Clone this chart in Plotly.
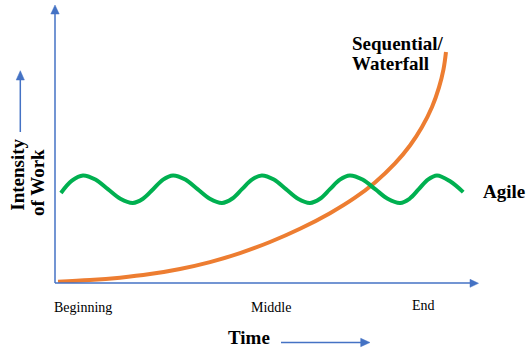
import plotly.graph_objects as go

# ---- data (x = time 0..100, y = intensity 0..100) ----
waterfall_x = [0.71, 8.27, 15.37, 22.46, 29.55, 36.64, 43.74, 50.83, 57.92, 65.01,
               70.92, 75.65, 80.38, 83.92, 86.76, 89.13, 90.78, 91.84, 92.43]
waterfall_y = [0.47, 1.04, 1.91, 3.20, 5.04, 7.52, 10.76, 14.75, 19.50, 25.11,
               30.68, 36.15, 42.99, 49.46, 56.12, 63.31, 70.36, 76.83, 83.09]

agile_x = [1.4, 4.0, 6.6, 9.55, 12.5, 15.45, 18.4, 20.8, 23.2, 25.55, 27.9, 30.8,
           33.7, 36.6, 39.5, 41.85, 44.2, 46.55, 48.9, 51.75, 54.6, 57.45, 60.3,
           62.65, 65.0, 67.35, 69.7, 72.7, 75.7, 78.65, 81.6, 83.8, 86.0, 88.15,
           90.3, 93.4, 96.5]
agile_y = [32.4, 36.8, 38.7, 37.2, 33.75, 30.3, 28.8, 30.3, 33.75, 37.2, 38.7, 37.2,
           33.75, 30.3, 28.8, 30.3, 33.75, 37.2, 38.7, 37.2, 33.75, 30.3, 28.8,
           30.3, 33.75, 37.2, 38.7, 37.2, 33.75, 30.3, 28.8, 30.3, 33.75, 37.2,
           38.7, 36.6, 32.7]

tick_labels = ["Beginning", "Middle", "End"]
series_names = ["Sequential/", "Waterfall", "Agile"]
y_title = ["Intensity", "of Work"]
x_title = "Time"

# ---- layout geometry (pixels) ----
W, H = 530, 354
L, R, T, B = 55, 478, 5, 283          # plot area edges in px
BLUE = "#4472C4"
FONT = "Liberation Serif, Times New Roman, serif"


def px(xp, yp):
    """pixel -> paper coordinates"""
    return (xp - L) / (R - L), (B - yp) / (B - T)


fig = go.Figure()
fig.add_trace(go.Scatter(x=waterfall_x, y=waterfall_y, mode="lines",
                         line=dict(color="#ED7D31", width=4, shape="spline", smoothing=1.0),
                         hoverinfo="skip"))
fig.add_trace(go.Scatter(x=agile_x, y=agile_y, mode="lines",
                         line=dict(color="#00B050", width=4, shape="spline", smoothing=1.0),
                         hoverinfo="skip"))

shapes = []


def line_px(x0, y0, x1, y1):
    a, b = px(x0, y0)
    c, d = px(x1, y1)
    shapes.append(dict(type="line", xref="paper", yref="paper", x0=a, y0=b, x1=c, y1=d,
                       line=dict(color=BLUE, width=1.5)))


def tri_px(pts):
    p = [px(*q) for q in pts]
    path = "M {} {} L {} {} L {} {} Z".format(p[0][0], p[0][1], p[1][0], p[1][1], p[2][0], p[2][1])
    shapes.append(dict(type="path", xref="paper", yref="paper", path=path,
                       fillcolor=BLUE, line=dict(color=BLUE, width=0.5)))


# y axis with arrow
line_px(55, 283, 55, 12)
tri_px([(55, 5), (50.8, 14), (59.2, 14)])
# x axis with arrow
line_px(55, 283, 471, 283)
tri_px([(478.5, 283.3), (470, 279.3), (470, 287.3)])
# small vertical arrow
line_px(20.3, 132, 20.3, 78)
tri_px([(20.3, 70.7), (16.2, 80), (24.4, 80)])
# time arrow
line_px(281, 342.5, 362, 342.5)
tri_px([(370, 342.5), (360.7, 338.3), (360.7, 346.7)])

annotations = []


def text_px(t, xp, yp, size, bold=False, xanchor="center", angle=0):
    a, b = px(xp, yp)
    annotations.append(dict(text=("<b>%s</b>" % t) if bold else t, x=a, y=b,
                            xref="paper", yref="paper", showarrow=False,
                            xanchor=xanchor, yanchor="middle", textangle=angle,
                            font=dict(family=FONT, size=size, color="black")))


# tick labels
text_px(tick_labels[0], 52, 307.7, 14, xanchor="left")
text_px(tick_labels[1], 271, 308, 14)
text_px(tick_labels[2], 423.5, 305.7, 14)
# titles
text_px(x_title, 249, 337.7, 19, bold=True)
text_px(y_title[0], 16.7, 175, 19, bold=True, angle=-90)
text_px(y_title[1], 37, 183, 19, bold=True, angle=-90)
# series labels
text_px(series_names[0], 349.5, 43, 19, bold=True, xanchor="left")
text_px(series_names[1], 349.5, 63, 19, bold=True, xanchor="left")
text_px(series_names[2], 480.5, 191, 19, bold=True, xanchor="left")

fig.update_layout(
    width=W, height=H, autosize=False,
    margin=dict(l=L, r=W - R, t=T, b=H - B, pad=0),
    paper_bgcolor="white", plot_bgcolor="white",
    showlegend=False,
    xaxis=dict(range=[0, 100], visible=False, fixedrange=True),
    yaxis=dict(range=[0, 100], visible=False, fixedrange=True),
    shapes=shapes, annotations=annotations,
)

fig.write_html("out.html", config=dict(displayModeBar=False))
